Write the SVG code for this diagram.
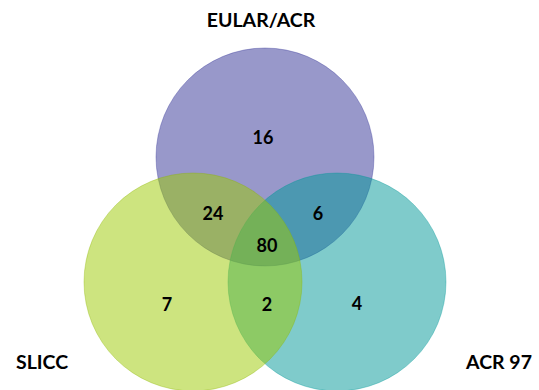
<svg xmlns="http://www.w3.org/2000/svg" width="539" height="390" viewBox="0 0 539 390">
<style>
.c{fill-opacity:0.5;stroke-opacity:0.35;stroke-width:1}
.t{font-family:Lato,"Liberation Sans",sans-serif;font-weight:bold;fill:#000;text-anchor:middle}
.lab{font-size:19.5px}
.num{font-size:18px}
</style>
<rect width="539" height="390" fill="#fff"/>
<g id="eular-acr">
<circle class="c" cx="265" cy="157" r="109" fill="#313195" stroke="#313195"/>
</g>
<g id="acr97">
<circle class="c" cx="337" cy="282" r="109" fill="#009797" stroke="#009797"/>
</g>
<g id="slicc">
<circle class="c" cx="193" cy="282" r="109" fill="#9BC900" stroke="#8CB400"/>
</g>
<g id="labels">
<text class="t lab" x="261" y="27">EULAR/ACR</text>
<text class="t lab" x="42" y="369">SLICC</text>
<text class="t lab" x="499" y="369">ACR 97</text>
</g>
<g id="counts">
<text class="t num" x="263" y="144">16</text>
<text class="t num" x="213" y="220">24</text>
<text class="t num" x="318" y="220">6</text>
<text class="t num" x="267" y="252">80</text>
<text class="t num" x="167" y="311">7</text>
<text class="t num" x="267" y="311">2</text>
<text class="t num" x="357" y="310">4</text>
</g>
</svg>
